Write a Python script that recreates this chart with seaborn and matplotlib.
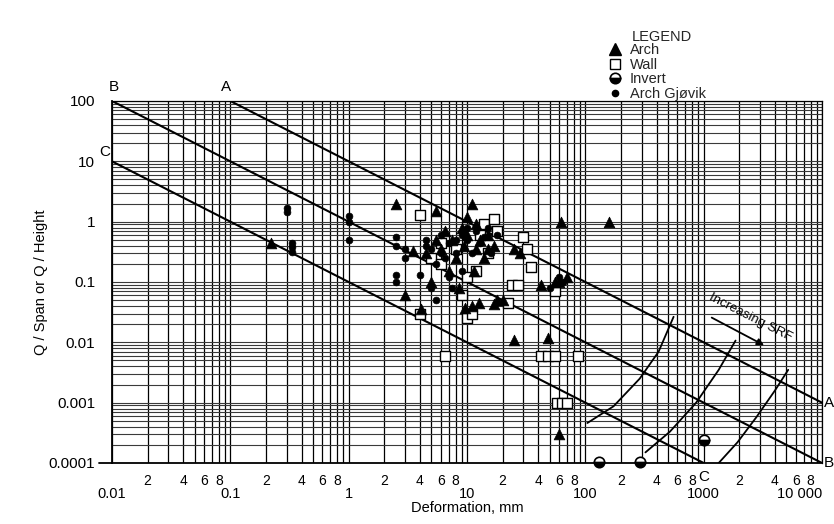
import numpy as np
import pandas as pd
import matplotlib
matplotlib.use('Agg')
import matplotlib.pyplot as plt
import seaborn as sns
from matplotlib.lines import Line2D
from matplotlib.ticker import FixedLocator, FixedFormatter

sns.set_theme(style='white')
plt.rcParams['font.family'] = ['Liberation Sans', 'DejaVu Sans']

# ---------------- data ----------------
arch_x = [0.22, 2.5, 3, 3.5, 4.1, 4.5, 5, 5.5, 5.5, 6, 6.5, 7, 7.5, 8, 8.5, 9, 9.5, 9.7, 10,
          10, 11, 11, 11.5, 12, 12, 12.6, 13, 14, 15, 15, 16.8, 17, 18, 20, 25, 28, 25,
          48, 42, 55, 60, 62, 60, 70, 160]
arch_y = [0.45, 2.0, 0.06, 0.33, 0.036, 0.3, 0.1, 1.5, 0.5, 0.35, 0.7, 0.15, 0.5, 0.25,
          0.08, 0.8, 0.4, 0.037, 1.2, 0.6, 2.0, 0.04, 0.15, 0.9, 0.35, 0.045, 0.5, 0.25,
          0.6, 0.35, 0.043, 0.4, 0.05, 0.05, 0.35, 0.3, 0.011, 0.012, 0.09, 0.1, 0.1, 1.0,
          0.0003, 0.12, 1.0]

wall_x = [4, 4, 5, 6, 6, 6.5, 8, 9, 10, 10, 11, 12, 13, 14, 15, 17, 18, 22, 24, 27, 30,
          32, 35, 55, 42, 48, 55, 86, 58, 64, 70]
wall_y = [0.03, 1.3, 0.25, 0.2, 0.45, 0.006, 0.35, 0.06, 0.12, 0.025, 0.03, 0.15, 0.6,
          0.9, 0.3, 1.1, 0.7, 0.045, 0.09, 0.09, 0.55, 0.35, 0.18, 0.07, 0.006, 0.006,
          0.006, 0.006, 0.001, 0.001, 0.001]

invert_x = [130, 290, 1000]
invert_y = [0.000105, 0.000105, 0.00024]

gjovik_x = [0.3, 0.3, 0.33, 0.33, 0.33, 1.0, 1.0, 1.0, 2.5, 2.5, 2.5, 2.5, 3, 3, 4, 4.5,
            4.5, 5, 5, 5.5, 6, 6, 6.5, 7, 7, 8, 8, 9, 10, 10, 11, 12, 13, 14, 15, 16, 18,
            9, 7.5, 5.5, 60, 65, 50]
gjovik_y = [1.45, 1.7, 0.45, 0.38, 0.32, 1.25, 1.0, 0.5, 0.55, 0.4, 0.13, 0.1, 0.35, 0.25,
            0.13, 0.4, 0.5, 0.08, 0.35, 0.2, 0.6, 0.3, 0.25, 0.45, 0.12, 0.5, 0.3, 0.6,
            0.8, 0.5, 0.3, 0.7, 0.45, 0.55, 0.8, 0.3, 0.6, 0.15, 0.08, 0.05, 0.12, 0.1,
            0.08]

# reference lines (end points)
line_names = ['A', 'B', 'C']
line_x = [[0.1, 10000], [0.01, 10000], [0.01, 1000]]
line_y = [[100, 0.001], [100, 0.0001], [10, 0.0001]]

# SRF curves
srf_x = [[104, 173, 288, 416, 557],
         [322, 518, 864, 1340, 1860],
         [1340, 1930, 2780, 4010, 5180]]
srf_y = [[4.6e-4, 8.7e-4, 2.5e-3, 7.0e-3, 0.0265],
         [1.5e-4, 3.3e-4, 1.0e-3, 3.5e-3, 0.0107],
         [1.0e-4, 2.2e-4, 5.7e-4, 1.6e-3, 3.5e-3]]

x_major = [0.01, 0.1, 1, 10, 100, 1000, 10000]
x_major_labels = ['0.01', '0.1', '1', '10', '100', '1000', '10 000']
y_major = [0.0001, 0.001, 0.01, 0.1, 1, 10, 100]
y_major_labels = ['0.0001', '0.001', '0.01', '0.1', '1', '10', '100']
minor_mult = [2, 3, 4, 5, 6, 7, 8, 9]
minor_label_mult = [2, 4, 6, 8]

# ---------------- figure ----------------
W, H = 834, 524
fig = plt.figure(figsize=(W / 100, H / 100), dpi=100)
ax = fig.add_axes([112 / W, 1 - 463 / H, 710 / W, 362 / H])
ax.set_xscale('log')
ax.set_yscale('log')
ax.set_xlim(0.01, 10000)
ax.set_ylim(0.0001, 100)

# ticks
x_minor = [m * d for d in x_major[:-1] for m in minor_mult]
x_minor_lab = [str(m) if m in minor_label_mult else '' for d in x_major[:-1] for m in minor_mult]
ax.xaxis.set_major_locator(FixedLocator(x_major))
ax.xaxis.set_major_formatter(FixedFormatter(x_major_labels))
ax.xaxis.set_minor_locator(FixedLocator(x_minor))
ax.xaxis.set_minor_formatter(FixedFormatter(x_minor_lab))
y_minor = [m * d for d in y_major[:-1] for m in minor_mult]
ax.yaxis.set_major_locator(FixedLocator(y_major))
ax.yaxis.set_major_formatter(FixedFormatter(y_major_labels))
ax.yaxis.set_minor_locator(FixedLocator(y_minor))
ax.yaxis.set_minor_formatter(FixedFormatter([''] * len(y_minor)))

ax.tick_params(axis='x', which='major', direction='out', length=8, width=1.0,
               pad=9, labelsize=10.5, colors='black')
ax.tick_params(axis='x', which='minor', direction='out', length=7, width=1.0,
               pad=1, labelsize=10, colors='black')
ax.tick_params(axis='y', which='major', direction='out', length=9, width=1.0,
               pad=3, labelsize=11, colors='black')
ax.tick_params(axis='y', which='minor', direction='out', length=4, width=0.8)

ax.grid(True, which='both', axis='x', color='black', lw=0.9, zorder=0)
ax.grid(True, which='both', axis='y', color='#3a3a3a', lw=0.8, zorder=0)
ax.set_axisbelow(True)
for s in ['left', 'bottom']:
    ax.spines[s].set_color('black')
    ax.spines[s].set_linewidth(1.3)
for s in ['top', 'right']:
    ax.spines[s].set_color('black')
    ax.spines[s].set_linewidth(0.9)
ax.plot([-0.018, 0], [0, 0], transform=ax.transAxes, color='black', lw=1.3, clip_on=False)

# lines A, B, C
for name, lx, ly in zip(line_names, line_x, line_y):
    ax.plot(lx, ly, color='black', lw=1.5, zorder=3)

# line labels
lab_kw = dict(fontsize=11, color='black', textcoords='offset points')
ax.annotate('B', (0.01, 100), xytext=(1, 5), ha='center', va='bottom', **lab_kw)
ax.annotate('A', (0.1, 100), xytext=(-3, 5), ha='center', va='bottom', **lab_kw)
ax.annotate('C', (0.01, 10), xytext=(-1, 2), ha='right', va='bottom', **lab_kw)
ax.annotate('A', (10000, 0.001), xytext=(1.5, 0), ha='left', va='center', **lab_kw)
ax.annotate('B', (10000, 0.0001), xytext=(1.5, 0), ha='left', va='center', **lab_kw)
ax.annotate('C', (1000, 0.0001), xytext=(0, -5), ha='center', va='top', **lab_kw)

# SRF curves
for cx, cy in zip(srf_x, srf_y):
    ax.plot(cx, cy, color='black', lw=1.3, zorder=3)
ax.annotate('', xy=(3400, 0.0085), xytext=(1115, 0.027),
            arrowprops=dict(arrowstyle='-|>', color='black', lw=1.3, mutation_scale=10))
ax.text(2500, 0.026, 'Increasing SRF', rotation=-27, rotation_mode='anchor',
        ha='center', va='center', fontsize=9.5, color='black')

# data markers
df_arch = pd.DataFrame({'x': arch_x, 'y': arch_y})
df_wall = pd.DataFrame({'x': wall_x, 'y': wall_y})
df_gj = pd.DataFrame({'x': gjovik_x, 'y': gjovik_y})
sns.scatterplot(data=df_wall, x='x', y='y', marker='s', s=45, facecolor='white',
                edgecolor='black', linewidth=1.0, ax=ax, zorder=4)
sns.scatterplot(data=df_arch, x='x', y='y', marker='^', s=60, color='black',
                edgecolor='black', linewidth=0.5, ax=ax, zorder=5)
sns.scatterplot(data=df_gj, x='x', y='y', marker='o', s=24, color='black',
                edgecolor='black', linewidth=0.5, ax=ax, zorder=6)
ax.plot(invert_x, invert_y, ls='none', marker='o', ms=7.5, fillstyle='bottom',
        markerfacecolor='black', markerfacecoloralt='white', markeredgecolor='black',
        markeredgewidth=1.2, zorder=6, clip_on=False)

ax.set_xlabel('Deformation, mm', fontsize=10.5, color='black')
ax.xaxis.set_label_coords(0.5, -(501 - 463) / 362)
ax.set_ylabel('Q / Span or Q / Height', fontsize=10.5, color='black')
ax.yaxis.set_label_coords((48 - 112) / 710, 0.5)

for lab in ax.xaxis.get_majorticklabels():
    if lab.get_text() == '10 000':
        lab.set_horizontalalignment('right')

# legend
handles = [Line2D([], [], ls='none', marker='^', color='black', ms=8),
           Line2D([], [], ls='none', marker='s', mfc='white', mec='black', ms=7.5, mew=1.0),
           Line2D([], [], ls='none', marker='o', fillstyle='bottom', mfc='black',
                  mfcalt='white', mec='black', ms=7.5, mew=1.2),
           Line2D([], [], ls='none', marker='o', color='black', ms=4.5)]
labels = ['Arch', 'Wall', 'Invert', 'Arch Gjøvik']
fig.text(632 / W, 1 - 37 / H, 'LEGEND', fontsize=10.5, ha='left', va='center')
fig.legend(handles, labels, loc='upper left', bbox_to_anchor=(608 / W, 1 - 43 / H),
           frameon=False, fontsize=10.5, handlelength=1.0, handletextpad=0.5,
           labelspacing=0.05, borderpad=0, borderaxespad=0)

fig.savefig('out.png', dpi=100)
